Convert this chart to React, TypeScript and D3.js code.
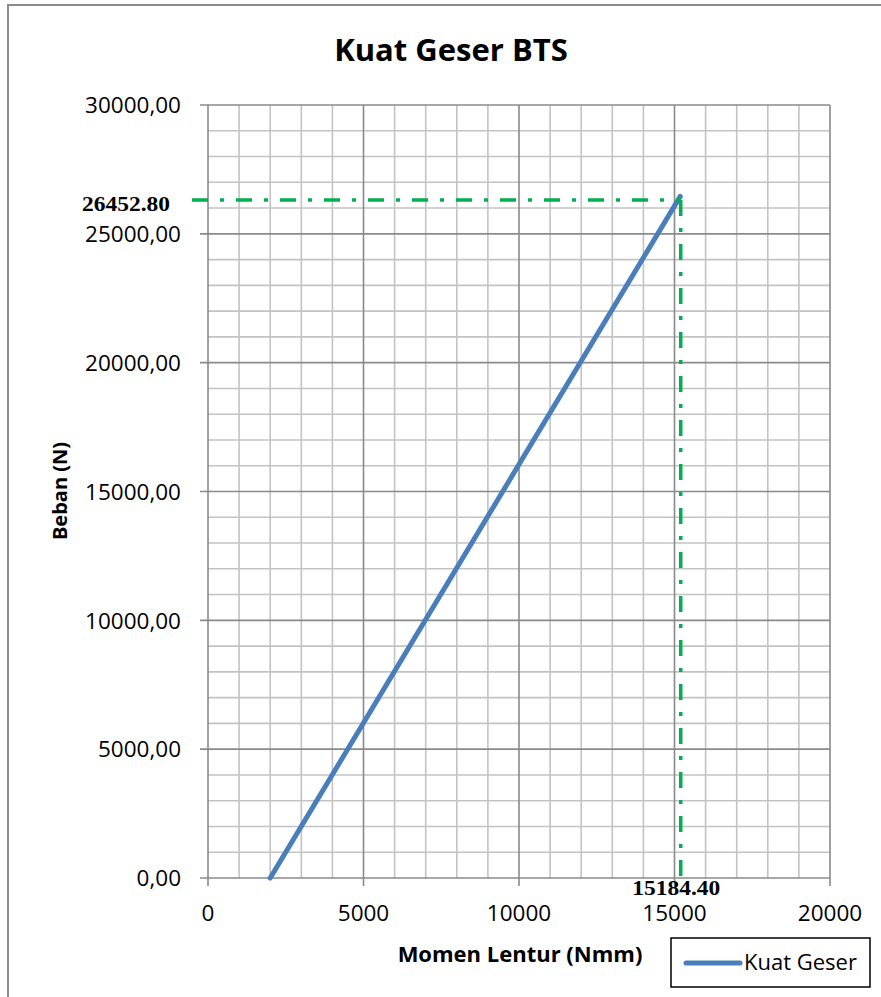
import React, { useEffect } from 'react';
import * as d3 from 'd3';

const title = 'Kuat Geser BTS';
const xTitle = 'Momen Lentur (Nmm)';
const yTitle = 'Beban (N)';
const seriesName = 'Kuat Geser';

const momen = [2000, 15184.4];
const beban = [0, 26452.8];

const xTicks = [0, 5000, 10000, 15000, 20000];
const xTickLabels = ['0', '5000', '10000', '15000', '20000'];
const yTicks = [0, 5000, 10000, 15000, 20000, 25000, 30000];
const yTickLabels = ['0,00', '5000,00', '10000,00', '15000,00', '20000,00', '25000,00', '30000,00'];
const xMinorStep = 1000;
const yMinorStep = 1000;

const markX = 15184.4;
const markY = 26452.8;
const markXLabel = '15184.40';
const markYLabel = '26452.80';

const W = 881;
const H = 997;
const plot = { left: 208, right: 830, top: 105, bottom: 878 };

export default function App() {
  useEffect(() => {
    document.body.style.margin = '0';
  }, []);

  const x = d3.scaleLinear().domain([0, 20000]).range([plot.left, plot.right]);
  const y = d3.scaleLinear().domain([0, 30000]).range([plot.bottom, plot.top]);

  const xMinor = d3.range(0, 20000 + 1, xMinorStep).filter((v) => !xTicks.includes(v));
  const yMinor = d3.range(0, 30000 + 1, yMinorStep).filter((v) => !yTicks.includes(v));

  const pts: [number, number][] = momen.map((m, i) => [m, beban[i]]);
  const line = d3
    .line<[number, number]>()
    .x((d) => x(d[0]))
    .y((d) => y(d[1]));

  const font = "'Open Sans', 'Liberation Sans', sans-serif";
  const serif = "'Liberation Serif', 'Times New Roman', serif";
  const minorColor = '#c3c3c3';
  const majorColor = '#8a8a8a';
  const green = '#00b050';
  const dash = '16 12 4 12';
  const gy = y(markY) + 3.5;
  const gx = x(markX) + 0.5;

  return (
    <svg width={W} height={H} style={{ display: 'block', background: '#fff' }}>
      <rect x={8} y={5} width={W + 20} height={H + 20} fill="#fff" stroke="#8c8c8c" strokeWidth={2} />
      <text x={451} y={61} textAnchor="middle" fontFamily={font} fontWeight="bold" fontSize={31}>
        {title}
      </text>

      {/* minor grid */}
      {xMinor.map((v) => (
        <line key={'xm' + v} x1={x(v)} x2={x(v)} y1={plot.top} y2={plot.bottom} stroke={minorColor} strokeWidth={1.6} />
      ))}
      {yMinor.map((v) => (
        <line key={'ym' + v} x1={plot.left} x2={plot.right} y1={y(v)} y2={y(v)} stroke={minorColor} strokeWidth={1.6} />
      ))}
      {/* major grid */}
      {xTicks.map((v) => (
        <line key={'xM' + v} x1={x(v)} x2={x(v)} y1={plot.top} y2={plot.bottom + 8} stroke={majorColor} strokeWidth={1.6} />
      ))}
      {yTicks.map((v) => (
        <line key={'yM' + v} x1={plot.left - 8} x2={plot.right} y1={y(v)} y2={y(v)} stroke={majorColor} strokeWidth={1.6} />
      ))}

      {/* tick labels */}
      {yTicks.map((v, i) => (
        <text key={'yl' + v} x={181} y={y(v)} dy="0.37em" textAnchor="end" fontFamily={font} fontSize={22.5} fill="#000">
          {yTickLabels[i]}
        </text>
      ))}
      {xTicks.map((v, i) => (
        <text key={'xl' + v} x={x(v)} y={921} textAnchor="middle" fontFamily={font} fontSize={22.5} fill="#000">
          {xTickLabels[i]}
        </text>
      ))}

      {/* data line */}
      <path d={line(pts) || ''} fill="none" stroke="#4a7ebb" strokeWidth={5} strokeLinecap="round" />

      {/* annotations */}
      <line x1={plot.left - 16} x2={gx} y1={gy} y2={gy} stroke={green} strokeWidth={3.5} strokeDasharray={dash} />
      <line x1={gx} x2={gx} y1={gy} y2={y(0)} stroke={green} strokeWidth={3.5} strokeDasharray={dash} />
      <text x={126} y={211} textAnchor="middle" fontFamily={serif} fontWeight="bold" fontSize={22}
        textLength={88} lengthAdjust="spacingAndGlyphs">
        {markYLabel}
      </text>
      <text x={x(markX) - 4} y={895} textAnchor="middle" fontFamily={serif} fontWeight="bold" fontSize={22}
        textLength={88} lengthAdjust="spacingAndGlyphs">
        {markXLabel}
      </text>

      {/* axis titles */}
      <text x={520} y={962} textAnchor="middle" fontFamily={font} fontWeight="bold" fontSize={22}>
        {xTitle}
      </text>
      <text
        transform={`translate(67, 491) rotate(-90)`}
        textAnchor="middle"
        fontFamily={font}
        fontWeight="bold"
        fontSize={20}
      >
        {yTitle}
      </text>

      {/* legend */}
      <rect x={671} y={938} width={199} height={49} fill="#fff" stroke="#000" strokeWidth={1.5} />
      <line x1={686} x2={740} y1={963} y2={963} stroke="#4a7ebb" strokeWidth={5} strokeLinecap="round" />
      <text x={744} y={970} fontFamily={font} fontSize={22} fill="#000">
        {seriesName}
      </text>
    </svg>
  );
}
